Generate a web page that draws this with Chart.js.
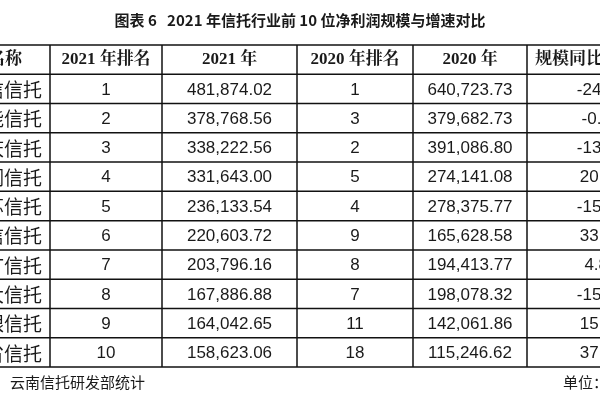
<!DOCTYPE html><html><head><meta charset="utf-8">
<script src="https://cdn.jsdelivr.net/npm/chart.js@4/dist/chart.umd.min.js"></script>
<style>html,body{margin:0;background:#fff}#w{width:600px;height:400px}</style></head><body><div id="w"><canvas id="c"></canvas></div>
<script>
const title = "图表 6   2021 年信托行业前 10 位净利润规模与增速对比";
const headers = ["名称","2021 年排名","2021 年","2020 年排名","2020 年","规模同比"];
const names = ["中信信托","华能信托","重庆信托","华润信托","江苏信托","建信信托","五矿信托","英大信托","交银信托","湖南省信托"];
const rank2021 = [1,2,3,4,5,6,7,8,9,10];
const profit2021 = ["481,874.02","378,768.56","338,222.56","331,643.00","236,133.54","220,603.72","203,796.16","167,886.88","164,042.65","158,623.06"];
const rank2020 = [1,3,2,5,4,9,8,7,11,18];
const profit2020 = ["640,723.73","379,682.73","391,086.80","274,141.08","278,375.77","165,628.58","194,413.77","198,078.32","142,061.86","115,246.62"];
const growth = ["-24.79%","-0.24%","-13.52%","20.97%","-15.18%","33.19%","4.82%","-15.24%","15.47%","37.64%"];
const source = "云南信托研发部统计";
const unit = "单位：万元";

const colEdges = [-60,50,162,297,413,527,690];
const rows = rank2021.map((r,i)=>[names[i],String(r),profit2021[i],String(rank2020[i]),profit2020[i],growth[i]]);

const tablePlugin = {id:'tbl', afterDraw(ch){
  const ctx=ch.ctx, xs=ch.scales.x, ys=ch.scales.y;
  ctx.save();
  ctx.fillStyle='#1a1a1a';ctx.textAlign='center';ctx.textBaseline='middle';
  ctx.font='bold 15px "Noto Sans CJK SC"';
  ctx.fillText(title,300,20);
  ctx.strokeStyle='#111';ctx.lineWidth=1.5;
  for(let r=0;r<=11;r++){const y=ys.getPixelForValue(r);ctx.beginPath();ctx.moveTo(0,y);ctx.lineTo(600,y);ctx.stroke();}
  const y0=ys.getPixelForValue(0),y1=ys.getPixelForValue(11);
  colEdges.forEach(e=>{const x=xs.getPixelForValue(e);ctx.beginPath();ctx.moveTo(x,y0);ctx.lineTo(x,y1);ctx.stroke();});
  const cx=c=>xs.getPixelForValue((colEdges[c]+colEdges[c+1])/2);
  ctx.font='bold 17px "Liberation Serif","Noto Serif CJK SC","Noto Sans CJK SC"';
  headers.forEach((h,c)=>{
    if(c===0){ctx.textAlign='right';ctx.fillText(h,xs.getPixelForValue(colEdges[1])-28,ys.getPixelForValue(0.5));}
    else if(c===5){ctx.textAlign='left';ctx.fillText(h,xs.getPixelForValue(colEdges[5])+8,ys.getPixelForValue(0.5));}
    else {ctx.textAlign='center';ctx.fillText(h,cx(c),ys.getPixelForValue(0.5));}
  });
  rows.forEach((row,r)=>row.forEach((v,c)=>{
    ctx.font = c===0 ? '19px "Noto Sans CJK SC"' : '17px "Liberation Sans Narrow","Liberation Sans"';
    let x=cx(c);
    if(c===0){ctx.textAlign='right';x=xs.getPixelForValue(colEdges[1])-8;}
    else ctx.textAlign='center';
    ctx.fillText(v,x,ys.getPixelForValue(r+1.5)+1);
  }));
  ctx.font='15px "Noto Sans CJK SC"';ctx.textAlign='left';
  ctx.fillText(source,10,382);ctx.fillText(unit,563,382);
  ctx.restore();
}};
new Chart(document.getElementById('c'),{type:'scatter',
  data:{datasets:[{data:[],pointRadius:0}]},
  options:{responsive:true,maintainAspectRatio:false,animation:false,
    layout:{padding:{top:45,bottom:33,left:0,right:0}},
    plugins:{legend:{display:false},tooltip:{enabled:false}},
    scales:{x:{type:'linear',min:0,max:600,display:false},y:{type:'linear',min:0,max:11,reverse:true,display:false}}},
  plugins:[tablePlugin]});
</script></body></html>
